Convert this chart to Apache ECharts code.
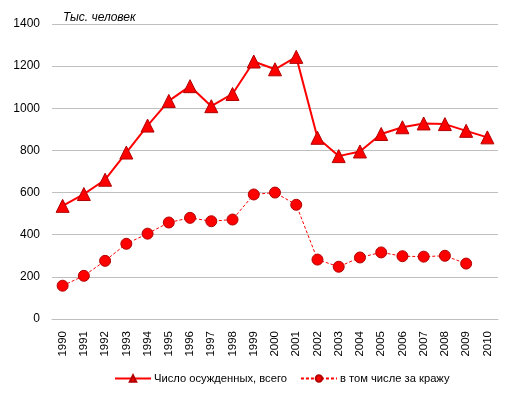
<!DOCTYPE html>
<html><head><meta charset="utf-8">
<script src="https://cdn.jsdelivr.net/npm/echarts@6/dist/echarts.min.js"></script>
<style>html,body{margin:0;padding:0;background:#fff}#c{width:513px;height:393px}</style>
</head><body><div id="c"></div>
<script>
var years = ['1990','1991','1992','1993','1994','1995','1996','1997','1998','1999','2000','2001','2002','2003','2004','2005','2006','2007','2008','2009','2010'];
var totalConvicted = [537,593,661,790,918,1035,1105,1010,1068,1222,1185,1244,860,773,795,878,910,928,925,893,862];
var theftConvicted = [158,205,276,357,405,458,480,464,472,591,600,542,282,248,292,316,298,296,300,263,null];
var yTicks = [0,200,400,600,800,1000,1200,1400];

var chart = echarts.init(document.getElementById('c'));
chart.setOption({
  animation: false,
  textStyle: {fontFamily: 'Liberation Sans, Arial, sans-serif'},
  title: {text: 'Тыс. человек', left: 58, top: 7,
    textStyle: {fontSize: 12, fontStyle: 'italic', fontWeight: 'normal', color: '#000'}},
  grid: {left: 52, right: 15, top: 24, bottom: 74},
  legend: {
    top: 368, left: 109, itemWidth: 36, itemHeight: 8, itemGap: 13,
    textStyle: {fontSize: 11.2, color: '#000', padding: [0, 0, 0, -2]},
    data: ['Число осужденных, всего', 'в том числе за кражу']
  },
  xAxis: {
    type: 'category', data: years, boundaryGap: true,
    axisLine: {lineStyle: {color: '#BFBFBF'}},
    axisTick: {show: false},
    axisLabel: {rotate: 90, fontSize: 11.5, color: '#000', margin: 12}
  },
  yAxis: {
    type: 'value', min: 0, max: 1400, interval: 200,
    axisLine: {show: false}, axisTick: {show: false},
    axisLabel: {fontSize: 12, color: '#000', margin: 12,
      formatter: function(v){ return yTicks.indexOf(v) >= 0 ? String(v) : ''; }},
    splitLine: {lineStyle: {color: '#BFBFBF', width: 1}}
  },
  series: [
    {name: 'Число осужденных, всего', type: 'line', data: totalConvicted,
      symbol: 'triangle', symbolSize: 13,
      lineStyle: {color: '#FF0000', width: 2},
      itemStyle: {color: '#FF0000', borderColor: '#B00000', borderWidth: 1}},
    {name: 'в том числе за кражу', type: 'line', data: theftConvicted,
      symbol: 'circle', symbolSize: 11,
      lineStyle: {color: '#FF0000', width: 1, type: [3, 2]},
      itemStyle: {color: '#FF0000', borderColor: '#B00000', borderWidth: 1}}
  ]
});
</script></body></html>
